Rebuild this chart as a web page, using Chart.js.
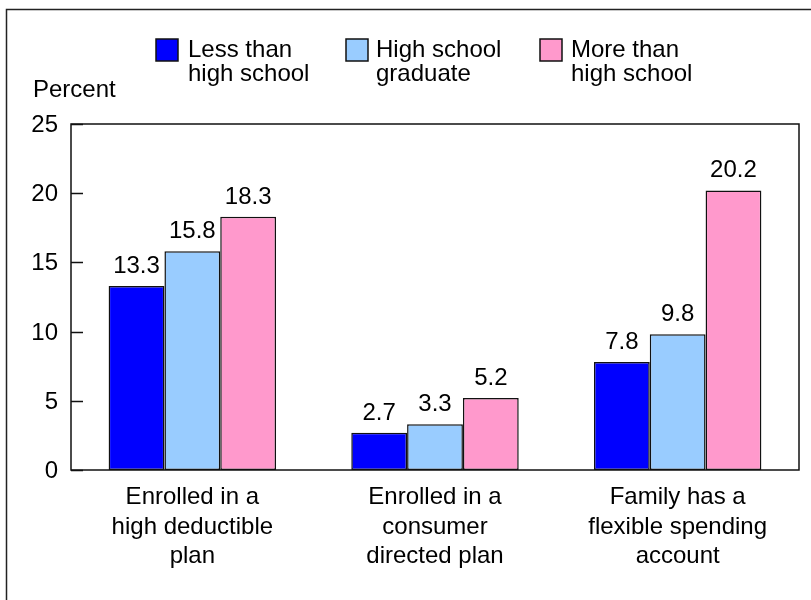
<!DOCTYPE html>
<html>
<head>
<meta charset="utf-8">
<script src="https://cdn.jsdelivr.net/npm/chart.js@4/dist/chart.umd.min.js"></script>
<style>
html,body{margin:0;padding:0;background:#fff;}
#wrap{width:811px;height:600px;position:relative;}
</style>
</head>
<body>
<div id="wrap"><canvas id="c" width="811" height="600"></canvas></div>
<script>
const categories = [
  ["Enrolled in a", "high deductible", "plan"],
  ["Enrolled in a", "consumer", "directed plan"],
  ["Family has a", "flexible spending", "account"]
];
const seriesNames = [["Less than", "high school"], ["High school", "graduate"], ["More than", "high school"]];
const lessThanHS = [13.3, 2.7, 7.8];
const hsGraduate = [15.8, 3.3, 9.8];
const moreThanHS = [18.3, 5.2, 20.2];
const seriesColors = ["#0000FF", "#99CCFF", "#FF99CC"];
const yTicks = [0, 5, 10, 15, 20, 25];
const FONT = "Arial, 'Liberation Sans', sans-serif";
const FS = 24;

const framePlugin = {
  id: 'frame',
  beforeDraw(chart) {
    const ctx = chart.ctx;
    ctx.save();
    ctx.fillStyle = '#fff';
    ctx.fillRect(0, 0, chart.width, chart.height);
    ctx.strokeStyle = '#222';
    ctx.lineWidth = 1.5;
    ctx.strokeRect(6.5, 9.5, 1000, 1000);
    ctx.restore();
  },
  afterDatasetsDraw(chart) {
    const ctx = chart.ctx;
    const a = chart.chartArea;
    const y = chart.scales.y;
    ctx.save();
    ctx.strokeStyle = '#111';
    ctx.lineWidth = 1.5;
    ctx.strokeRect(a.left, a.top, a.right - a.left, a.bottom - a.top);
    ctx.beginPath();
    yTicks.forEach(v => {
      const py = Math.round(y.getPixelForValue(v)) + 0.5;
      ctx.moveTo(a.left, py);
      ctx.lineTo(a.left + 12, py);
    });
    ctx.stroke();
    // y tick labels
    ctx.fillStyle = '#000';
    ctx.font = FS + 'px ' + FONT;
    ctx.textAlign = 'right';
    ctx.textBaseline = 'alphabetic';
    yTicks.forEach(v => {
      ctx.fillText(String(v), a.left - 13, y.getPixelForValue(v) + 8);
    });
    ctx.textAlign = 'left';
    ctx.fillText('Percent', 33, 97);
    // data labels
    ctx.textAlign = 'center';
    chart.data.datasets.forEach((ds, i) => {
      const meta = chart.getDatasetMeta(i);
      meta.data.forEach((bar, j) => {
        ctx.fillText(ds.data[j].toFixed(1), bar.x, bar.y - 13);
      });
    });
    // legend
    const legendX = [[156, 188], [346, 376], [540, 571]];
    seriesNames.forEach((lines, i) => {
      ctx.fillStyle = seriesColors[i];
      ctx.fillRect(legendX[i][0], 39, 22, 22);
      ctx.strokeStyle = '#111';
      ctx.lineWidth = 1.5;
      ctx.strokeRect(legendX[i][0], 39, 22, 22);
      ctx.fillStyle = '#000';
      ctx.textAlign = 'left';
      lines.forEach((t, k) => ctx.fillText(t, legendX[i][1], 57 + k * 24));
    });
    ctx.restore();
  }
};

new Chart(document.getElementById('c'), {
  type: 'bar',
  data: {
    labels: categories,
    datasets: [
      { label: seriesNames[0].join(' '), data: lessThanHS, backgroundColor: seriesColors[0] },
      { label: seriesNames[1].join(' '), data: hsGraduate, backgroundColor: seriesColors[1] },
      { label: seriesNames[2].join(' '), data: moreThanHS, backgroundColor: seriesColors[2] }
    ].map(d => Object.assign(d, { borderColor: '#111', borderWidth: 1.5, borderSkipped: false, categoryPercentage: 0.69, barPercentage: 1.0 }))
  },
  options: {
    responsive: false,
    animation: false,
    devicePixelRatio: 1,
    layout: { padding: { top: 124, right: 12, left: 0, bottom: 0 } },
    plugins: { legend: { display: false }, tooltip: { enabled: false } },
    scales: {
      y: {
        min: 0, max: 25,
        ticks: { display: false, stepSize: 5 },
        grid: { display: false },
        border: { display: false },
        afterFit(s) { s.width = 71; }
      },
      x: {
        grid: { display: false, drawTicks: false },
        border: { display: false },
        ticks: { color: '#000', font: { size: FS, family: FONT, lineHeight: 1.23 }, padding: 13, maxRotation: 0, autoSkip: false },
        afterFit(s) { s.height = 130; }
      }
    }
  },
  plugins: [framePlugin]
});
</script>
</body>
</html>
